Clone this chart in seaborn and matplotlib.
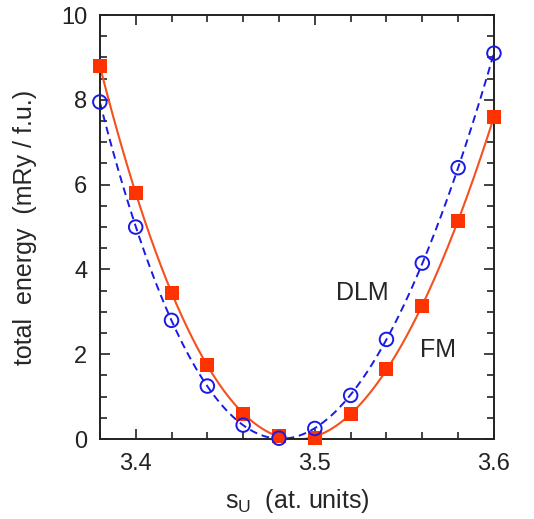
import numpy as np
import pandas as pd
import matplotlib
matplotlib.use("Agg")
import matplotlib.pyplot as plt
import seaborn as sns
from matplotlib.ticker import MultipleLocator

# Wigner-Seitz radius (at. units)
s_u = [3.38, 3.40, 3.42, 3.44, 3.46, 3.48, 3.50, 3.52, 3.54, 3.56, 3.58, 3.60]
# total energies (mRy / f.u.)
e_fm = [8.8, 5.8, 3.45, 1.75, 0.6, 0.08, 0.02, 0.6, 1.65, 3.15, 5.15, 7.6]
e_dlm = [7.95, 5.0, 2.8, 1.25, 0.33, 0.02, 0.25, 1.03, 2.35, 4.15, 6.4, 9.1]

sns.set_theme(style="ticks")
plt.rcParams["font.family"] = ["Liberation Sans", "DejaVu Sans"]
plt.rcParams["mathtext.fontset"] = "custom"
plt.rcParams["mathtext.rm"] = "Liberation Sans"

fm_col = "#f4511e"
fm_mark = "#ff3300"
dlm_col = "#1a1ae6"

fig = plt.figure(figsize=(5.34, 5.19), dpi=100)
ax = fig.add_axes([0.187, 0.154, 0.738, 0.817])

# smooth polynomial fits through the computed energies
xs = np.linspace(min(s_u), max(s_u), 300)
fit_fm = np.polyval(np.polyfit(s_u, e_fm, 4), xs)
fit_dlm = np.polyval(np.polyfit(s_u, e_dlm, 4), xs)
fits = pd.DataFrame({"s": xs, "fm": fit_fm, "dlm": fit_dlm})
sns.lineplot(data=fits, x="s", y="fm", ax=ax, color=fm_col, lw=1.5)
sns.lineplot(data=fits, x="s", y="dlm", ax=ax, color=dlm_col, lw=1.4,
             linestyle=(0, (4, 2.5)))

pts = pd.DataFrame({"s": s_u, "fm": e_fm, "dlm": e_dlm})
sns.scatterplot(data=pts, x="s", y="fm", ax=ax, marker="s", s=108,
                color=fm_mark, edgecolor=fm_mark, linewidth=0, clip_on=False, zorder=5)
sns.scatterplot(data=pts, x="s", y="dlm", ax=ax, marker="o", s=95,
                facecolor="none", edgecolor=dlm_col, linewidth=1.4, clip_on=False, zorder=6)

ax.set_xlim(3.38, 3.60)
ax.set_ylim(0, 10)
ax.xaxis.set_major_locator(MultipleLocator(0.1))
ax.xaxis.set_minor_locator(MultipleLocator(0.02))
ax.yaxis.set_major_locator(MultipleLocator(2))
ax.yaxis.set_minor_locator(MultipleLocator(0.5))
ax.set_xticks([3.4, 3.5, 3.6])
ax.set_xticklabels(["3.4", "3.5", "3.6"])
ax.tick_params(which="both", direction="in", top=True, right=True, colors="#222222",
               labelsize=17, width=1.2)
ax.tick_params(axis="x", which="major", length=7, pad=10)
ax.tick_params(axis="y", which="major", length=7, pad=9)
ax.tick_params(which="minor", length=5)
for sp in ax.spines.values():
    sp.set_linewidth(1.4)
    sp.set_color("#222222")

ax.set_xlabel(r"s$_{\mathregular{U}}$  (at. units)", fontsize=18, labelpad=9)
ax.set_ylabel("total  energy  (mRy / f.u.)", fontsize=18, labelpad=17)

ax.text(3.5265, 3.45, "DLM", fontsize=18, ha="center", va="center")
ax.text(3.5685, 2.1, "FM", fontsize=18, ha="center", va="center")

fig.savefig("out.png", dpi=100)
